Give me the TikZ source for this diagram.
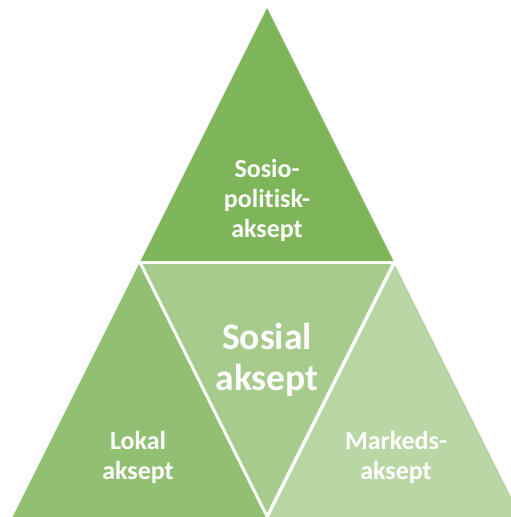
\documentclass[tikz,border=0pt]{standalone}
\usepackage{fontspec}
\setmainfont[Ligatures={NoCommon,TeX}]{Carlito}
\definecolor{gA}{HTML}{7EB55B}
\definecolor{gB}{HTML}{92C072}
\definecolor{gC}{HTML}{A7CB8C}
\definecolor{gD}{HTML}{B9D7A4}
\begin{document}
\begin{tikzpicture}[x=1pt,y=1pt,
  lbl/.style={text=white,font=\bfseries\fontsize{26}{30}\selectfont,align=center,inner sep=0pt},
  biglbl/.style={text=white,font=\bfseries\fontsize{37.5}{41}\selectfont,align=center,inner sep=0pt},
  sep/.style={white,line width=2.5pt}]
\useasboundingbox (0,0) rectangle (511,517);
\clip (0,0) rectangle (511,517);
% top triangle
\fill[gA] (267,509) -- (140.5,256) -- (393.5,256) -- cycle;
% bottom-left triangle
\fill[gB] (139,253) -- (12.5,0) -- (265.5,0) -- cycle;
% centre inverted triangle
\fill[gC] (141,253) -- (393,253) -- (267,1) -- cycle;
% bottom-right triangle
\fill[gD] (395,252) -- (268.5,-1) -- (521.5,-1) -- cycle;
% white separators
\draw[sep] (140.5,254.5) -- (393.5,254.5);
\draw[sep] (141,253) -- (267,1);
\draw[sep] (393,253) -- (267,1);
\node[lbl] (top) at (267,317) {Sosio-\\politisk-\\aksept};
\node[biglbl] (mid) at (267,157) {Sosial\\aksept};
\node[lbl] (left) at (138,60) {Lokal\\aksept};
\node[lbl] (right) at (396,60) {Markeds-\\aksept};
\end{tikzpicture}
\end{document}
